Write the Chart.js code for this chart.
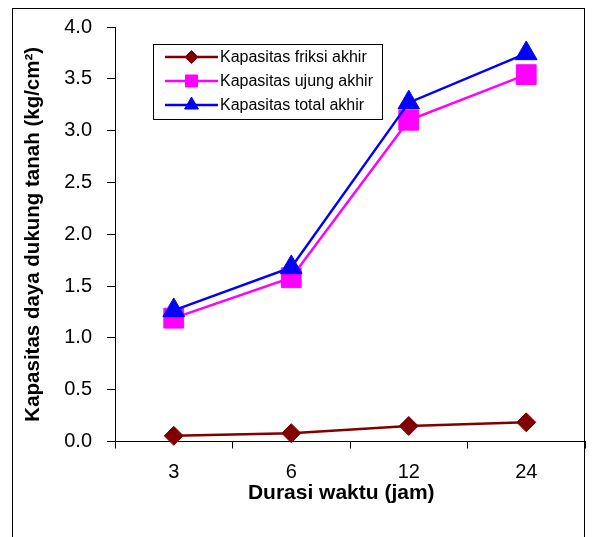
<!DOCTYPE html>
<html>
<head>
<meta charset="utf-8">
<script src="https://cdn.jsdelivr.net/npm/chart.js@4/dist/chart.umd.min.js"></script>
<style>
  html, body { margin: 0; padding: 0; background: #fff; }
  #wrap { position: relative; width: 593px; height: 537px; overflow: hidden; }
  #frame { position: absolute; left: 12px; top: 8px; width: 573px; height: 600px;
           border: 1px solid #000; box-sizing: border-box; }
  canvas { position: absolute; left: 0; top: 0; }
</style>
</head>
<body>
<div id="wrap">
  <div id="frame"></div>
  <canvas id="chart" width="593" height="537"></canvas>
</div>
<script>
// Kapasitas daya dukung tanah vs durasi waktu
const DURASI = ['3', '6', '12', '24'];
const FRIKSI = [0.055, 0.08, 0.15, 0.185];
const UJUNG = [1.19, 1.58, 3.10, 3.54];
const TOTAL = [1.265, 1.68, 3.27, 3.745];
const Y_TICKS = [0, 0.5, 1, 1.5, 2, 2.5, 3, 3.5, 4];

const FONT = "'Liberation Sans', Arial, sans-serif";

const SERIES = [
    { label: 'Kapasitas friksi akhir', data: FRIKSI, color: '#800000', style: 'rectRot', radius: 9.5, legendRadius: 6.5, order: 2 },
    { label: 'Kapasitas ujung akhir', data: UJUNG, color: '#ff00ff', style: 'rect', radius: 14, legendRadius: 8.5, order: 1 },
    { label: 'Kapasitas total akhir', data: TOTAL, color: '#0000ff', style: 'triangle', radius: 12.5, legendRadius: 8, order: 0 }
];

// legend box drawn inside the plot, like the Excel original
const boxLegend = {
    id: 'boxLegend',
    afterDraw(chart) {
        const ctx = chart.ctx;
        const x0 = 153, y0 = 44, w = 229, h = 75;
        ctx.save();
        ctx.fillStyle = '#fff';
        ctx.fillRect(x0, y0, w, h);
        ctx.strokeStyle = '#000';
        ctx.lineWidth = 1;
        ctx.strokeRect(x0 + 0.5, y0 + 0.5, w, h);
        SERIES.forEach((s, i) => {
            const y = 57 + i * 24;
            ctx.strokeStyle = s.color;
            ctx.fillStyle = s.color;
            ctx.lineWidth = 2.5;
            ctx.beginPath();
            ctx.moveTo(165, y);
            ctx.lineTo(218, y);
            ctx.stroke();
            ctx.lineWidth = 1;
            Chart.helpers.drawPoint(ctx, { pointStyle: s.style, radius: s.legendRadius, borderWidth: 1, rotation: 0 }, 191.5, y);
            ctx.fillStyle = '#000';
            ctx.font = '16px ' + FONT;
            ctx.textBaseline = 'middle';
            ctx.textAlign = 'left';
            ctx.fillText(s.label, 220, y + 1);
        });
        ctx.restore();
    }
};

new Chart(document.getElementById('chart'), {
    type: 'line',
    data: {
        labels: DURASI,
        datasets: SERIES.map(s => ({
            label: s.label,
            data: s.data,
            borderColor: s.color,
            backgroundColor: s.color,
            borderWidth: 2.5,
            pointStyle: s.style,
            pointRadius: s.radius,
            pointHoverRadius: s.radius,
            pointBorderWidth: 1,
            pointBackgroundColor: s.color,
            pointBorderColor: s.color,
            tension: 0,
            order: s.order,
            clip: false
        }))
    },
    options: {
        responsive: false,
        animation: false,
        devicePixelRatio: 1,
        layout: { autoPadding: false, padding: { top: 27, right: 8, left: 0, bottom: 0 } },
        plugins: {
            legend: { display: false },
            tooltip: { enabled: false }
        },
        scales: {
            x: {
                offset: true,
                grid: { offset: true, drawOnChartArea: false, drawTicks: true, tickLength: 7, color: '#000', lineWidth: 1 },
                border: { display: true, color: '#000', width: 1 },
                ticks: { color: '#000', font: { family: FONT, size: 20 }, padding: 12, maxRotation: 0 },
                // trailing spaces nudge the centred title a little left, as in the original
                title: { display: true, text: 'Durasi waktu (jam)   ', color: '#000',
                         font: { family: FONT, size: 21, weight: 'bold' }, padding: { top: 0, bottom: 31 } },
                afterFit(scale) {
                    scale.height = 95.5;
                    scale.paddingLeft = 0;
                    scale.paddingRight = 0;
                }
            },
            y: {
                min: 0,
                max: 4,
                afterBuildTicks(scale) { scale.ticks = Y_TICKS.map(v => ({ value: v })); },
                grid: { drawOnChartArea: false, drawTicks: true, tickLength: 8, color: '#000', lineWidth: 1 },
                border: { display: true, color: '#000', width: 1 },
                ticks: { color: '#000', font: { family: FONT, size: 20 }, padding: 15,
                         callback: v => Number(v).toFixed(1) },
                title: { display: true, text: 'Kapasitas daya dukung tanah (kg/cm²)', color: '#000',
                         font: { family: FONT, size: 20.5, weight: 'bold' }, padding: { top: 21, bottom: 0 } },
                afterFit(scale) { scale.width = 115; }
            }
        }
    },
    plugins: [boxLegend]
});
</script>
</body>
</html>
